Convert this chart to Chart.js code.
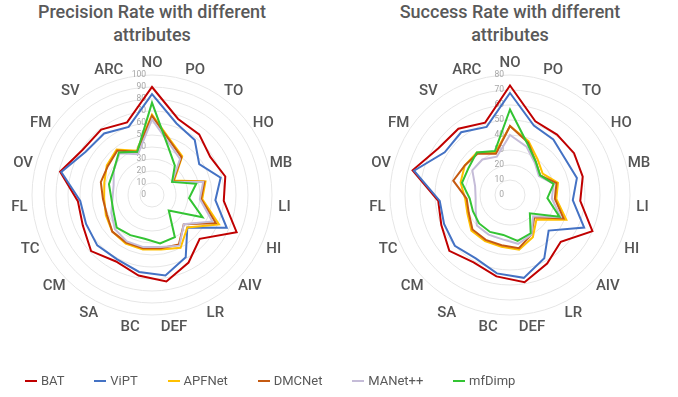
<!DOCTYPE html>
<html>
<head>
<meta charset="utf-8">
<script src="https://cdn.jsdelivr.net/npm/chart.js@4.4.1/dist/chart.umd.min.js"></script>
<style>
  body { margin: 0; background: #fff; width: 678px; height: 397px; overflow: hidden; position: relative; font-family: Roboto, sans-serif; color: #595959; }
  .box { position: absolute; top: 0; width: 339px; height: 397px; }
  .title { position: absolute; top: 0; width: 300px; text-align: center; font: 500 18px/23px Roboto, sans-serif; color: #595959; }
  #legend { position: absolute; left: 25px; top: 372px; display: flex; gap: 29.8px; font-size: 13px; line-height: 18px; }
  #legend span { display: flex; align-items: center; white-space: nowrap; }
  #legend i { display: inline-block; width: 12px; height: 2px; margin-right: 4px; }
</style>
</head>
<body>
<div class="title" style="left:2px">Precision Rate with different<br>attributes</div>
<div class="title" style="left:360px">Success Rate with different<br>attributes</div>
<div class="box" style="left:0"><canvas id="prec"></canvas></div>
<div class="box" style="left:339px"><canvas id="succ"></canvas></div>
<div id="legend"></div>
<script>
const attributes = ['NO', 'PO', 'TO', 'HO', 'MB', 'LI', 'HI', 'AIV', 'LR', 'DEF', 'BC', 'SA', 'CM', 'TC', 'FL', 'OV', 'FM', 'SV', 'ARC'];
const trackers = ['BAT', 'ViPT', 'APFNet', 'DMCNet', 'MANet++', 'mfDimp'];
const colors = ['#c00000', '#4472c4', '#ffc000', '#c55a11', '#c5bcd8', '#33c433'];

// precision rate per attribute
const precBAT    = [90, 67, 64, 58, 63, 60, 77, 54, 64, 73, 68, 63, 69, 63, 62, 79, 69, 69, 64];
const precViPT   = [84, 63, 58, 47, 59, 53, 68, 40, 59, 68, 65, 61, 62, 60, 60, 78, 66, 65, 60];
const precAPFNet = [67, 48, 41, 22, 46, 42, 61, 40, 50, 46, 46, 46, 45, 42, 40, 41, 45, 48, 39];
const precDMCNet = [66, 47, 40, 21, 45, 41, 58, 36, 47, 45, 45, 45, 45, 41, 41, 44, 44, 47, 38];
const precMANet  = [63, 45, 38, 20, 44, 40, 55, 36, 48, 44, 44, 44, 42, 37, 33, 33, 38, 44, 36];
const precMfDimp = [77, 42, 31, 20, 38, 31, 46, 19, 40, 41, 37, 38, 40, 35, 34, 37, 38, 45, 38];

// success rate per attribute
const succBAT    = [73, 52, 51, 51, 50, 47, 60, 46, 52, 59, 55, 51, 55, 50, 48, 67, 57, 56, 51];
const succViPT   = [68, 49, 47, 44, 46, 42, 54, 35, 48, 56, 53, 48, 50, 48, 47, 66, 52, 53, 48];
const succAPFNet = [46, 38, 30, 26, 33, 31, 41, 24, 32, 37, 35, 35, 35, 31, 30, 34, 36, 36, 30];
const succDMCNet = [46, 37, 28, 24, 32, 30, 39, 22, 30, 36, 34, 34, 34, 30, 29, 39, 36, 35, 29];
const succMANet  = [40, 34, 27, 23, 30, 28, 37, 21, 30, 33, 30, 30, 30, 25, 23, 24, 30, 30, 27];
const succMfDimp = [57, 36, 28, 24, 30, 25, 36, 18, 29, 31, 27, 28, 28, 27, 27, 33, 33, 36, 31];

const precTicks = [0, 10, 20, 30, 40, 50, 60, 70, 80, 90, 100];
const succTicks = [0, 10, 20, 30, 40, 50, 60, 70, 80];

// tick numbers left of the axis and attribute names round the rings
const radarText = {
  id: 'radarText',
  beforeDatasetsDraw(chart, args, opts) {
    const s = chart.scales.r;
    const ctx = chart.ctx;
    ctx.save();
    ctx.textBaseline = 'middle';
    ctx.font = '8.5px Roboto';
    ctx.fillStyle = '#a6a6a6';
    ctx.textAlign = 'right';
    opts.ticks.forEach(v => {
      ctx.fillText(String(v), s.xCenter - 6, s.yCenter - s.getDistanceFromCenterForValue(v));
    });
    ctx.font = '500 15px Roboto';
    ctx.fillStyle = '#555555';
    ctx.textAlign = 'center';
    chart.data.labels.forEach((l, i) => {
      const p = s.getPointPosition(i, s.drawingArea + 13);
      ctx.fillText(l, p.x, p.y + 1);
    });
    ctx.restore();
  }
};

function makeRadar(id, series, max, ticks, pad) {
  return new Chart(document.getElementById(id), {
    type: 'radar',
    data: {
      labels: attributes,
      datasets: series.map((d, i) => ({
        label: trackers[i],
        data: d,
        borderColor: colors[i],
        borderWidth: 2,
        fill: false,
        pointRadius: 0,
        order: series.length - i
      }))
    },
    options: {
      responsive: true,
      maintainAspectRatio: false,
      animation: false,
      layout: { padding: pad },
      plugins: { legend: { display: false }, tooltip: { enabled: false }, radarText: { ticks: ticks } },
      scales: {
        r: {
          min: 0,
          max: max,
          ticks: { stepSize: 10, display: false },
          pointLabels: { display: false },
          angleLines: { display: false },
          grid: { circular: true, color: '#e6e6e6' }
        }
      }
    },
    plugins: [radarText]
  });
}

makeRadar('prec', [precBAT, precViPT, precAPFNet, precDMCNet, precMANet, precMfDimp], 100, precTicks,
  { left: 32, top: 75, right: 67, bottom: 82 });
makeRadar('succ', [succBAT, succViPT, succAPFNet, succDMCNet, succMANet, succMfDimp], 80, succTicks,
  { left: 51, top: 75, right: 48, bottom: 82 });

document.getElementById('legend').innerHTML = trackers.map((t, i) =>
  `<span><i style="background:${colors[i]}"></i>${t}</span>`).join('');
</script>
</body>
</html>
